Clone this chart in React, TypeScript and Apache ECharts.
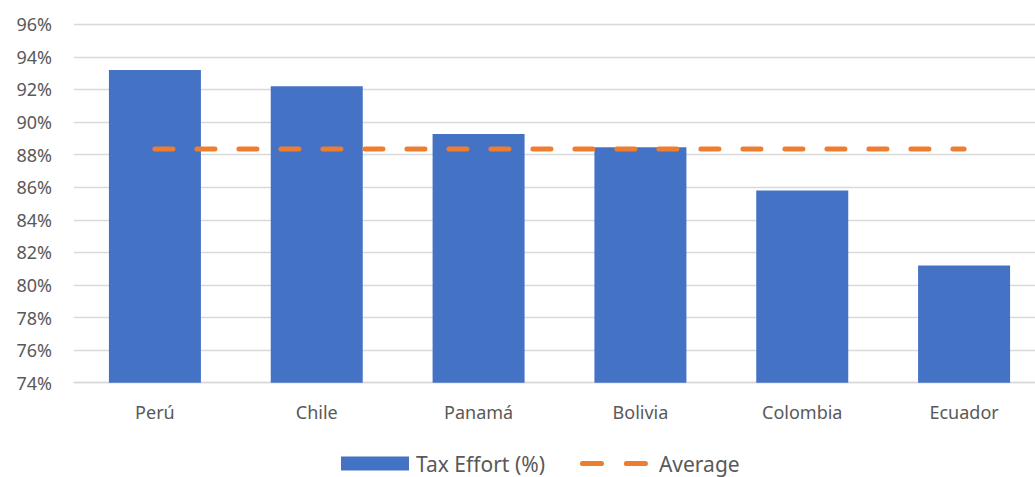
import React, { useEffect, useRef } from "react";
import * as echarts from "echarts";

const categories = ["Perú", "Chile", "Panamá", "Bolivia", "Colombia", "Ecuador"];
const taxEffort = [93.2, 92.2, 89.27, 88.45, 85.8, 81.2];
const averageValue = 88.35;
const averageLine = categories.map(() => averageValue);

const FONT = "'Noto Sans', 'Open Sans', sans-serif";
const DASH_ICON =
  "path://M2.5,0 H20.5 A2.5,2.5 0 0 1 20.5,5 H2.5 A2.5,2.5 0 0 1 2.5,0 Z M44.5,0 H62.5 A2.5,2.5 0 0 1 62.5,5 H44.5 A2.5,2.5 0 0 1 44.5,0 Z";

export default function App() {
  const ref = useRef<HTMLDivElement>(null);
  useEffect(() => {
    if (!ref.current) return;
    const chart = echarts.init(ref.current, undefined, { renderer: "svg" });
    chart.setOption({
      animation: false,
      backgroundColor: "#ffffff",
      textStyle: { fontFamily: FONT },
      grid: { left: 74, top: 24.3, width: 971, bottom: 94.3, containLabel: false },
      legend: {
        bottom: -2,
        left: 336,
        itemGap: 35,
        itemWidth: 68,
        itemHeight: 14,
        textStyle: { color: "#595959", fontSize: 21, fontFamily: FONT },
        data: [
          {
            name: "Tax Effort (%)",
            icon: "rect",
            itemStyle: { color: "#4472C4" },
            textStyle: { padding: [0, 0, 0, 2] },
          },
          {
            name: "Average",
            icon: DASH_ICON,
            itemStyle: { color: "#ED7D31" },
            textStyle: { padding: [0, 0, 0, 6] },
          },
        ],
      },
      xAxis: {
        type: "category",
        data: categories,
        axisLine: { show: true, lineStyle: { color: "#d9d9d9", width: 1.3 } },
        axisTick: { show: false },
        axisLabel: { color: "#595959", fontSize: 18, margin: 20, fontFamily: FONT },
      },
      yAxis: {
        type: "value",
        min: 74,
        max: 96,
        interval: 2,
        axisLine: { show: false },
        axisTick: { show: false },
        splitLine: { lineStyle: { color: "#d9d9d9", width: 1.3 } },
        axisLabel: {
          color: "#595959",
          fontSize: 18,
          margin: 22,
          fontFamily: FONT,
          formatter: (v: number) => `${v}%`,
        },
      },
      series: [
        {
          name: "Tax Effort (%)",
          type: "bar",
          data: taxEffort,
          barWidth: 92,
          itemStyle: { color: "#4472C4" },
        },
        {
          name: "Average",
          type: "line",
          data: averageLine,
          symbol: "none",
          z: 5,
          lineStyle: {
            color: "#ED7D31",
            width: 5,
            type: [18, 24],
            cap: "round",
          },
          itemStyle: { color: "#ED7D31" },
        },
      ],
    });
    return () => chart.dispose();
  }, []);
  return (
    <div
      style={{
        position: "fixed",
        left: 0,
        top: 0,
        width: 1035,
        height: 477,
        overflow: "hidden",
      }}
    >
      <div ref={ref} style={{ width: 1045, height: 477 }} />
    </div>
  );
}
